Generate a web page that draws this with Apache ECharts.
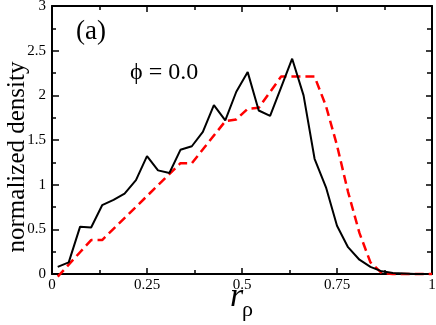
<!DOCTYPE html>
<html>
<head>
<meta charset="utf-8">
<script src="https://cdn.jsdelivr.net/npm/echarts@6/dist/echarts.min.js"></script>
<style>
  html, body { margin: 0; padding: 0; background: #fff; }
</style>
</head>
<body>
<div id="densityChart" style="width: 436px; height: 325px;"></div>
<script>
// bin centres of r_rho (black, simulation)
var rhoX = [0.015, 0.044, 0.074, 0.103, 0.132, 0.162, 0.191, 0.221, 0.25, 0.279,
            0.309, 0.338, 0.368, 0.397, 0.426, 0.456, 0.485, 0.515, 0.544, 0.574,
            0.603, 0.632, 0.662, 0.691, 0.721, 0.75, 0.779, 0.809, 0.838, 0.868,
            0.897, 0.926, 0.956, 0.985];
var simDensity = [0.08, 0.13, 0.53, 0.52, 0.77, 0.83, 0.90, 1.05, 1.32, 1.16,
                  1.13, 1.39, 1.43, 1.59, 1.89, 1.72, 2.04, 2.26, 1.83, 1.77,
                  2.09, 2.41, 2.00, 1.29, 0.97, 0.54, 0.30, 0.16, 0.08, 0.03,
                  0.01, 0.005, 0, 0];
// red dashed curve vertices
var modelX = [0.015, 0.103, 0.132, 0.338, 0.368, 0.456, 0.485, 0.515, 0.544, 0.603,
              0.691, 0.721, 0.75, 0.779, 0.809, 0.838, 0.868, 0.897, 1.0];
var modelDensity = [-0.03, 0.38, 0.38, 1.24, 1.24, 1.71, 1.73, 1.85, 1.86, 2.21,
                    2.21, 1.88, 1.44, 0.92, 0.46, 0.13, 0.01, 0, 0];
var xTickLabels = {0: '0', 0.25: '0.25', 0.5: '0.5', 0.75: '0.75', 1: '1'};

var serif = 'Liberation Serif';

function pairs(xs, ys) {
	var out = [];
	xs.forEach(function (x, i) { out.push([x, ys[i]]); });
	return out;
}

var chart = echarts.init(document.getElementById('densityChart'));
var boxLine = { show: true, onZero: false, lineStyle: { color: '#000', width: 2 } };
var option = {
	animation: false,
	grid: { left: 52, right: 4, top: 6, bottom: 51, containLabel: false, outerBoundsMode: 'none' },
	xAxis: [
		{
			type: 'value', min: 0, max: 1, interval: 0.25,
			axisLine: boxLine,
			axisTick: { inside: true, length: 6, lineStyle: { color: '#000', width: 1.5 } },
			minorTick: { show: true, splitNumber: 2, length: 4, lineStyle: { color: '#000', width: 1.5 } },
			splitLine: { show: false },
			axisLabel: {
				margin: 4, color: '#000', fontFamily: serif, fontSize: 15,
				formatter: function (v) { return xTickLabels[v]; }
			}
		},
		{
			type: 'value', position: 'top', min: 0, max: 1, interval: 0.25,
			axisLine: boxLine,
			axisTick: { inside: true, length: 6, lineStyle: { color: '#000', width: 1.5 } },
			minorTick: { show: true, splitNumber: 2, length: 4, lineStyle: { color: '#000', width: 1.5 } },
			splitLine: { show: false },
			axisLabel: { show: false }
		}
	],
	yAxis: [
		{
			type: 'value', min: 0, max: 3, interval: 0.5,
			name: 'normalized density', nameLocation: 'middle', nameGap: 22, nameMoveOverlap: false,
			nameTextStyle: { color: '#000', fontFamily: serif, fontSize: 25, padding: [0, 34, 0, 0] },
			axisLine: boxLine,
			axisTick: { inside: true, length: 7, lineStyle: { color: '#000', width: 1.5 } },
			minorTick: { show: true, splitNumber: 2, length: 4, lineStyle: { color: '#000', width: 1.5 } },
			splitLine: { show: false },
			axisLabel: { margin: 6, color: '#000', fontFamily: serif, fontSize: 15 }
		},
		{
			type: 'value', position: 'right', min: 0, max: 3, interval: 0.5,
			axisLine: boxLine,
			axisTick: { inside: true, length: 6, lineStyle: { color: '#000', width: 1.5 } },
			minorTick: { show: true, splitNumber: 2, length: 5, lineStyle: { color: '#000', width: 1.5 } },
			splitLine: { show: false },
			axisLabel: { show: false }
		}
	],
	graphic: [
		{ type: 'text', left: 76, top: 18, style: { text: '(a)', fontFamily: serif, fontSize: 27, fill: '#000' } },
		{ type: 'text', left: 130, top: 61, style: { text: 'ϕ = 0.0', fontFamily: serif, fontSize: 24, fill: '#000' } },
		{ type: 'text', left: 230, top: 280, style: { text: 'r', fontFamily: serif, fontStyle: 'italic', fontSize: 34, fill: '#000' } },
		{ type: 'text', left: 242, top: 299, style: { text: 'ρ', fontFamily: serif, fontSize: 22, fill: '#000' } }
	],
	series: [
		{
			name: 'model', type: 'line', clip: false,
			symbol: 'none',
			lineStyle: { color: '#ff0000', width: 2.5, type: [9, 5] },
			data: pairs(modelX, modelDensity),
			z: 2
		},
		{
			name: 'simulation', type: 'line',
			symbol: 'none',
			lineStyle: { color: '#000', width: 2 },
			data: pairs(rhoX, simDensity),
			z: 3
		}
	]
};
chart.setOption(option);
</script>
</body>
</html>
